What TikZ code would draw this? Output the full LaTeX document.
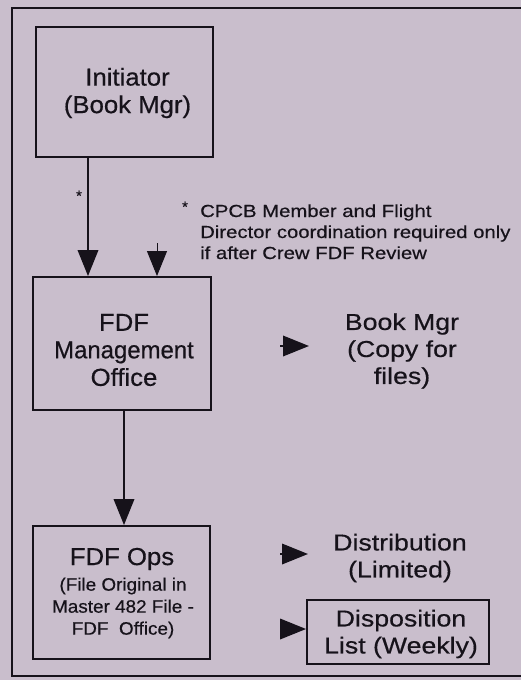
\documentclass[tikz,border=0pt]{standalone}
\usepackage{fontspec}
\setmainfont{Liberation Sans}[FakeBold=0.4]
\newfontfamily\fboxfont{Liberation Sans}[FakeStretch=1.05,FakeBold=0.5]
\newfontfamily\fwidefont{Liberation Sans}[FakeStretch=1.16,FakeBold=0.5]
\usetikzlibrary{arrows.meta}
\definecolor{paper}{RGB}{201,190,204}
\definecolor{ink}{RGB}{22,18,26}
\begin{document}
\begin{tikzpicture}[x=1pt,y=-1pt,
  frame/.style={draw=ink,line width=1.9pt},
  box/.style={draw=ink,line width=1.9pt,inner sep=0,rectangle},
  arr/.style={draw=ink,line width=1.9pt,-{Triangle[length=26pt,width=20.5pt]}},
  thinarr/.style={draw=ink,line width=1pt,-{Triangle[length=25pt,width=20pt]}},
  big/.style={font=\fboxfont\fontsize{24.5}{27.5}\selectfont,align=center,inner sep=0,text=ink},
  bigr/.style={font=\fwidefont\fontsize{23}{27}\selectfont,align=center,inner sep=0,text=ink},
  small/.style={font=\fboxfont\fontsize{18}{22}\selectfont,align=center,inner sep=0,text=ink},
  notetext/.style={font=\fwidefont\fontsize{17.5}{21}\selectfont,align=left,inner sep=0,text=ink},
  star/.style={font=\fontsize{15}{15}\selectfont,inner sep=0,text=ink}]
\useasboundingbox (0,0) rectangle (521,680);
\fill[paper] (0,0) rectangle (521,680);
% outer frame (open at right, runs off the page)
\draw[frame] (521,8) -- (12,8) -- (12,676) -- (521,676);
% boxes
\node[box,minimum width=177pt,minimum height=130pt] (init) at (124.5,92) {};
\node[box,minimum width=178pt,minimum height=133pt] (mgmt) at (122,343.5) {};
\node[box,minimum width=177pt,minimum height=133pt] (ops) at (121.5,592.5) {};
\node[box,minimum width=182pt,minimum height=64pt] (disp) at (398,632) {};
% texts
\node[big] (initT) at (127.5,93) {Initiator\\(Book Mgr)};
\node[big] (mgmtT) at (124,350) {FDF\\\scalebox{0.93}[1]{Management}\\Office};
\node[big] (opsT) at (122,559) {FDF Ops};
\node[small] (opsS) at (123,608) {(File Original in\\Master 482 File -\\FDF\ \ Office)};
\node[bigr] (bookT) at (402,351) {Book Mgr\\(Copy for\\files)};
\node[bigr] (distT) at (400,558) {Distribution\\(Limited)};
\node[bigr] (dispT) at (401,634) {Disposition\\List (Weekly)};
\node[star,anchor=base] (s1) at (79,201) {*};
\node[star,anchor=base] (s2) at (185,212) {*};
\node[notetext,anchor=base west] (note) at (200,259) {CPCB Member and Flight\\Director coordination required only\\if after Crew FDF Review};
% connectors
\coordinate (a1) at (88,0);
\coordinate (a2) at (157,243);
\coordinate (a3) at (124,0);
\coordinate (b1) at (280,346);
\coordinate (b2) at (309,346);
\coordinate (c1) at (280,554);
\coordinate (c2) at (308,554);
\coordinate (d1) at (280,629);
\draw[arr] (init.south -| a1) -- (mgmt.north -| a1);
\draw[thinarr] (a2) -- (mgmt.north -| a2);
\draw[arr] (mgmt.south -| a3) -- (ops.north -| a3);
\draw[arr] (b1) -- (b2);
\draw[arr] (c1) -- (c2);
\draw[arr] (d1) -- (d1 -| disp.west);
\end{tikzpicture}
\end{document}
